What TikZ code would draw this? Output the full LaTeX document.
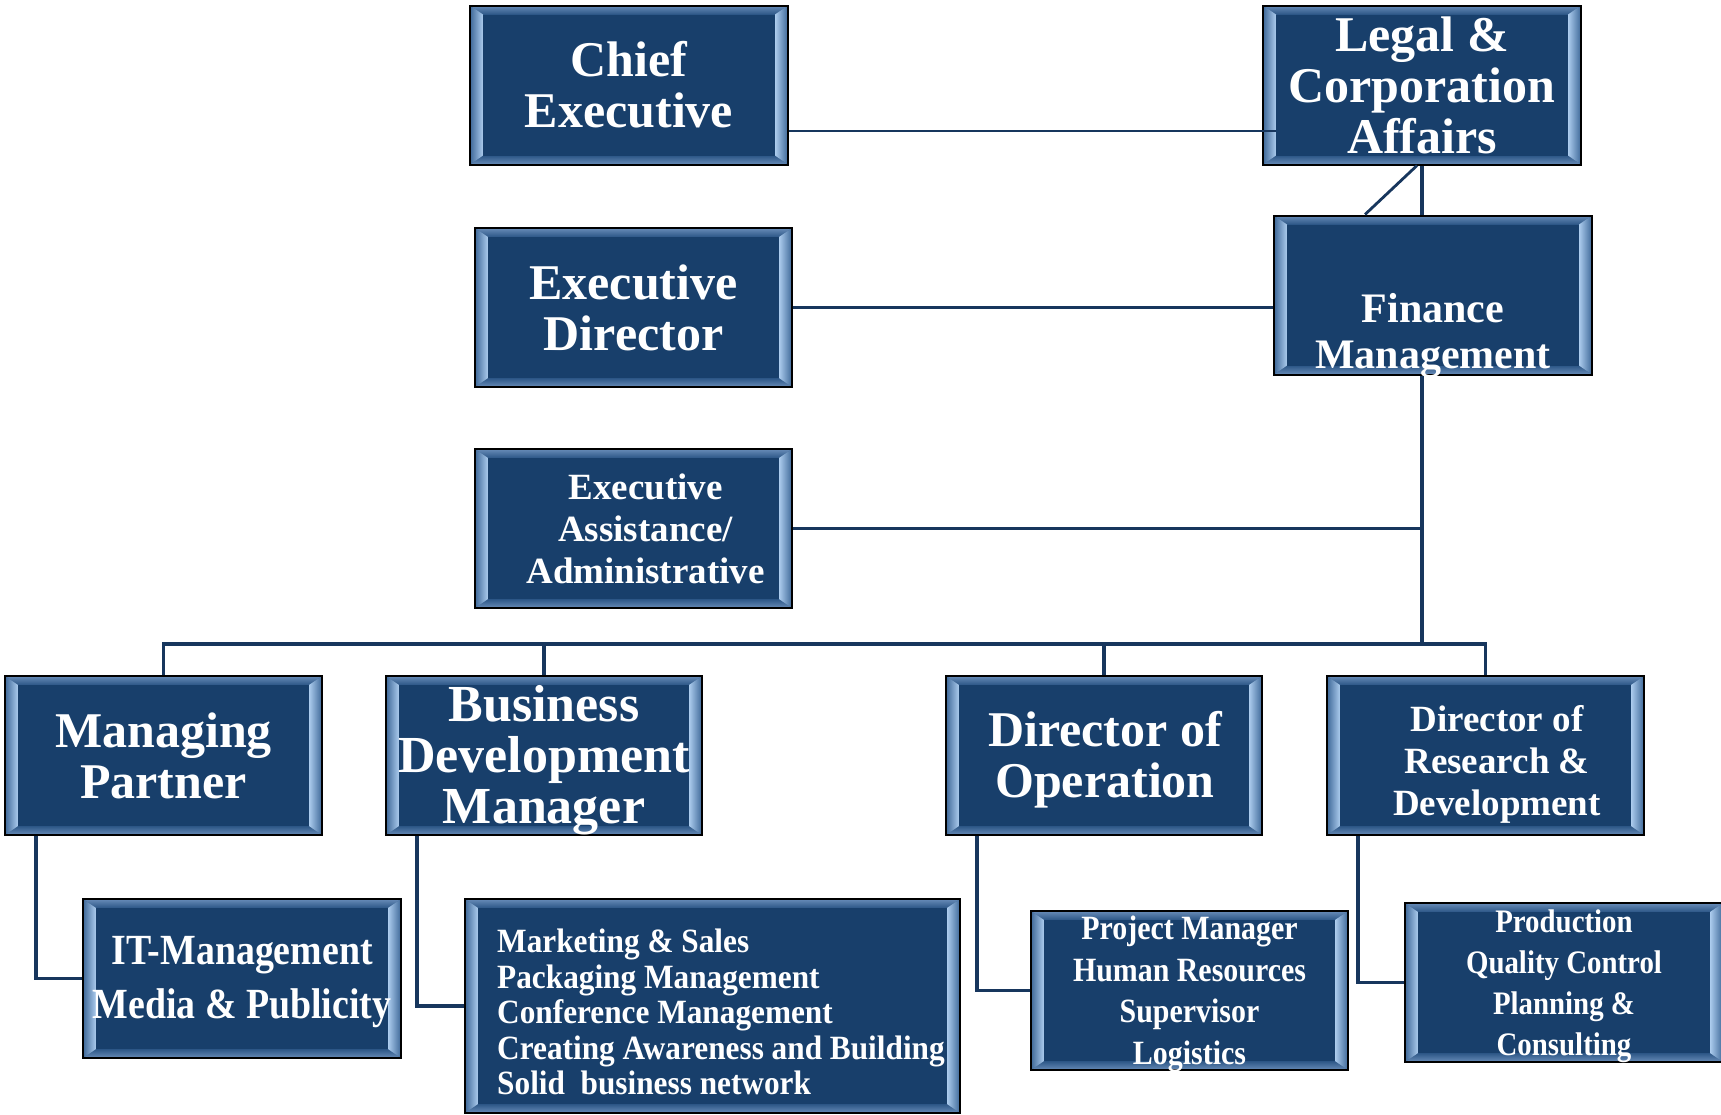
\documentclass[tikz,border=0pt]{standalone}
\usepackage{fontspec}
\setmainfont{Liberation Serif}
\newfontfamily\condfont[FakeStretch=0.88]{Liberation Serif}
\newfontfamily\condfontB[FakeStretch=0.92]{Liberation Serif}
\usetikzlibrary{calc}
\definecolor{boxblue}{RGB}{24,63,107}
\definecolor{linecol}{RGB}{23,54,93}
\definecolor{bevout}{RGB}{62,104,152}
\definecolor{bevlight}{RGB}{172,204,238}
\definecolor{bevtop}{RGB}{104,140,184}
\definecolor{bevmid}{RGB}{44,86,134}
\newcommand\orgbevel{%
  \path (path picture bounding box.south west) coordinate (bsw)
        (path picture bounding box.north east) coordinate (bne)
        (path picture bounding box.north west) coordinate (bnw)
        (path picture bounding box.south east) coordinate (bse);
  \fill[bevmid] (bsw) rectangle (bne);
  \shade[top color=bevtop, bottom color=bevmid] (bnw) -- (bne) -- ([shift={(-6.5pt,-4.5pt)}]bne) -- ([shift={(6.5pt,-4.5pt)}]bnw) -- cycle;
  \shade[top color=bevmid, bottom color=bevtop] (bsw) -- (bse) -- ([shift={(-6.5pt,4.5pt)}]bse) -- ([shift={(6.5pt,4.5pt)}]bsw) -- cycle;
  \shade[left color=bevout, right color=bevlight] (bsw) -- (bnw) -- ([shift={(6.5pt,-4.5pt)}]bnw) -- ([shift={(6.5pt,4.5pt)}]bsw) -- cycle;
  \shade[left color=bevlight, right color=bevout] (bse) -- (bne) -- ([shift={(-6.5pt,-4.5pt)}]bne) -- ([shift={(-6.5pt,4.5pt)}]bse) -- cycle;
  \fill[boxblue] ([shift={(6.5pt,4.5pt)}]bsw) rectangle ([shift={(-6.5pt,-4.5pt)}]bne);
}
\tikzset{
  orgbox/.style={draw=black, line width=1pt, fill=boxblue, text=white, inner sep=0pt,
    minimum width=159pt, minimum height=79.5pt, align=center, path picture={\orgbevel}},
  boxtext/.style={text=white, inner sep=0pt, align=center},
  bigfont/.style={font=\bfseries\fontsize{25}{25.5}\selectfont},
  conn/.style={draw=linecol, line width=1.75pt},
  thinconn/.style={draw=linecol, line width=0.75pt},
  diagconn/.style={draw=linecol, line width=1.4pt},
}
\begin{document}
\begin{tikzpicture}[x=0.5pt,y=-0.5pt]
\useasboundingbox (0,0) rectangle (1721,1115);
\fill[white] (0,0) rectangle (1721,1115);

% helper coordinates
\coordinate (clY) at (0,131);
\coordinate (busY) at (0,644);

% top nodes
\node[orgbox, bigfont] (Chief) at (629,85) {Chief\\Executive};
\node[orgbox, bigfont] (Legal) at (1422,85) {Legal \&\\Corporation\\Affairs};
\node[orgbox] (Fin) at (1433,295) {};
\node[boxtext, font=\bfseries\fontsize{21}{23}\selectfont] (FinT) at (1433,336) {Finance\\Management};
\node[orgbox, minimum width=158.5pt, bigfont] (ED) at (633.5,307.5) {Executive\\Director};
\node[orgbox, minimum width=158.5pt] (EA) at (633.5,528.5) {};
\node[boxtext, font=\bfseries\fontsize{18.5}{21}\selectfont] (EAT) at (645.5,529) {Executive\\Assistance/\\Administrative};

% second level
\node[orgbox, minimum width=158.5pt, bigfont] (MP) at (163.5,755.5) {Managing\\Partner};
\node[orgbox, minimum width=158pt] (BDM) at (544,755.5) {};
\node[boxtext, font=\bfseries\fontsize{26}{25.5}\selectfont] (BDMT) at (544,760) {Business\\Development\\Manager};
\node[orgbox, minimum width=158pt] (DoO) at (1104,755.5) {};
\node[boxtext, bigfont] (DoOT) at (1105,760) {Director of\\Operation};
\node[orgbox, minimum width=158.5pt] (RD) at (1485.5,755.5) {};
\node[boxtext, font=\bfseries\fontsize{18.5}{21}\selectfont] (RDT) at (1497,764) {Director of\\Research \&\\Development};

% third level
\node[orgbox] (IT) at (242,978.5) {};
\node[boxtext, font=\condfont\bfseries\fontsize{21.5}{27}\selectfont] (ITT) at (242,982) {IT-Management\\Media \& Publicity};
\node[orgbox, minimum width=247.5pt, minimum height=107pt] (Mk) at (712.5,1006) {};
\node[boxtext, align=left, font=\condfontB\bfseries\fontsize{17}{17.7}\selectfont] (MkT) at (721,1012) {Marketing \& Sales\\Packaging Management\\Conference Management\\Creating Awareness and Building\\Solid~ business network};
\node[orgbox, minimum width=158.5pt] (PM) at (1189.5,990.5) {};
\node[boxtext, font=\condfont\bfseries\fontsize{17}{20.7}\selectfont] (PMT) at (1189.5,994) {Project Manager\\Human Resources\\Supervisor\\Logistics};
\node[orgbox] (Prod) at (1564,982.5) {};
\node[boxtext, font=\condfont\bfseries\fontsize{16.4}{20.5}\selectfont] (ProdT) at (1564,986) {Production\\Quality Control\\Planning \&\\Consulting};

% connectors
\draw[thinconn] (Chief.east |- clY) -- ($(Legal.west |- clY)+(14,0)$);
\draw[conn] (Legal.south) -- (Legal.south |- Fin.north);
\draw[diagconn] ($(Legal.south)+(-5,0)$) -- ($(Fin.north)+(-68,0)$);
\draw[conn] (ED.east) -- (ED.east -| Fin.west);
\draw[conn] (Legal.south |- Fin.south) -- (Legal.south |- busY);
\draw[conn] (EA.east) -- (Legal.south |- EA.east);
\draw[conn] (MP.north) |- (busY -| RD.north) -- (RD.north);
\draw[conn] (BDM.north) -- (BDM.north |- busY);
\draw[conn] (DoO.north) -- (DoO.north |- busY);
\draw[conn] ($(MP.south west)+(32,0)$) |- (IT.west);
\draw[conn] ($(BDM.south west)+(32,0)$) |- (Mk.west);
\draw[conn] ($(DoO.south west)+(32,0)$) |- (PM.west);
\draw[conn] ($(RD.south west)+(32,0)$) |- (Prod.west);
\end{tikzpicture}
\end{document}
